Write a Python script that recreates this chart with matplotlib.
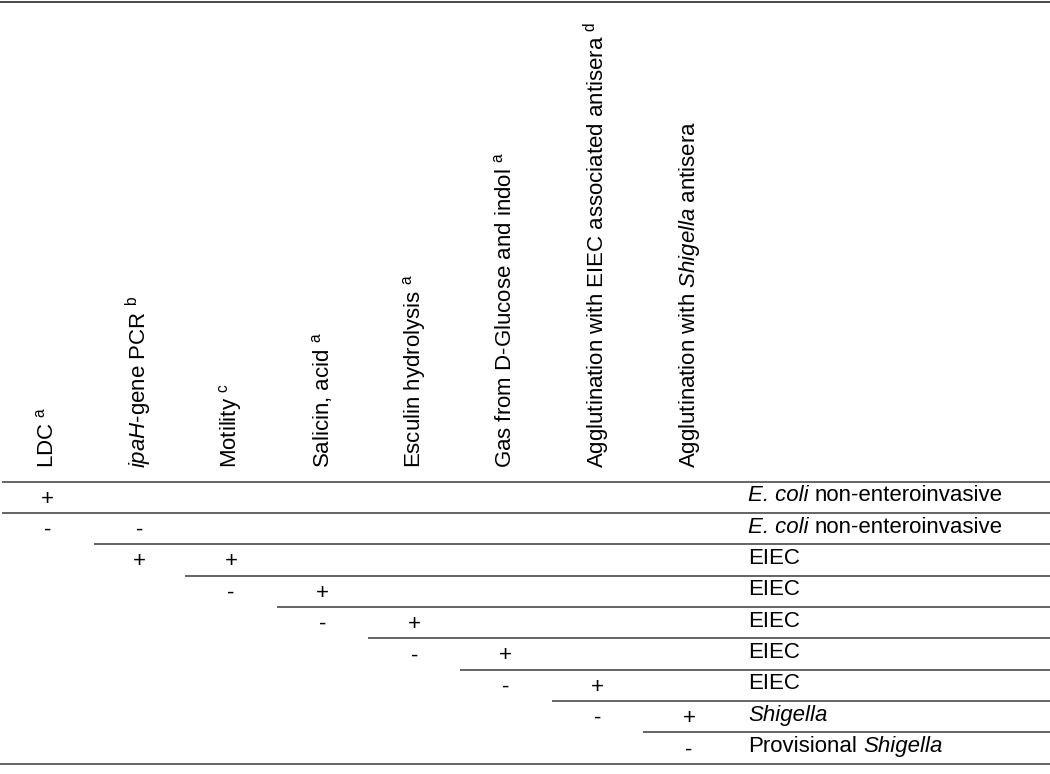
import matplotlib
matplotlib.use("Agg")
import matplotlib.pyplot as plt

plt.rcParams['font.family'] = ['Liberation Sans', 'DejaVu Sans']
plt.rcParams['mathtext.fontset'] = 'custom'
plt.rcParams['mathtext.rm'] = 'Liberation Sans'
plt.rcParams['mathtext.it'] = 'Liberation Sans:italic'
plt.rcParams['mathtext.bf'] = 'Liberation Sans:bold'

# ---- data ----
tests = [
    r"LDC $^{\mathrm{a}}$",
    r"$\mathit{ipaH}$-gene PCR $^{\mathrm{b}}$",
    r"Motility $^{\mathrm{c}}$",
    r"Salicin, acid $^{\mathrm{a}}$",
    r"Esculin hydrolysis $^{\mathrm{a}}$",
    r"Gas from D-Glucose and indol $^{\mathrm{a}}$",
    r"Agglutination with EIEC associated antisera $^{\mathrm{d}}$",
    r"Agglutination with $\mathit{Shigella}$ antisera",
]
results = [
    ["+", "", "", "", "", "", "", ""],
    ["-", "-", "", "", "", "", "", ""],
    ["", "+", "+", "", "", "", "", ""],
    ["", "", "-", "+", "", "", "", ""],
    ["", "", "", "-", "+", "", "", ""],
    ["", "", "", "", "-", "+", "", ""],
    ["", "", "", "", "", "-", "+", ""],
    ["", "", "", "", "", "", "-", "+"],
    ["", "", "", "", "", "", "", "-"],
]
# outcome labels as (text, italic) segments separated by spaces
outcomes = [
    [("E. coli", True), ("non-enteroinvasive", False)],
    [("E. coli", True), ("non-enteroinvasive", False)],
    [("EIEC", False)],
    [("EIEC", False)],
    [("EIEC", False)],
    [("EIEC", False)],
    [("EIEC", False)],
    [("Shigella", True)],
    [("Provisional", False), ("Shigella", True)],
]
# column index where the rule below each row begins
rule_start = [0, 1, 2, 3, 4, 5, 6, 7, 0]

# ---- layout ----
W, H = 1050, 774
fig = plt.figure(figsize=(W / 100, H / 100), dpi=100)
ax = fig.add_axes([0, 0, 1, 1])
ax.set_xlim(0, W)
ax.set_ylim(H, 0)
ax.axis('off')

x0 = 2.0
colw = 91.6
header_y = 481.5
rowh = 31.35
out_x = 748
fs = 16
space_pt = fs * 0.278
lc = '#3a3a3a'
lw = 1.1

# top rule
ax.plot([0, W], [1.5, 1.5], color=lc, lw=1.3, solid_capstyle='butt')
# header rule
ax.plot([x0, W], [header_y, header_y], color=lc, lw=lw, solid_capstyle='butt')

for i, t in enumerate(tests):
    cx = x0 + colw * (i + 0.5)
    ax.text(cx, header_y - 14, t, rotation=90, ha='center', va='bottom',
            fontsize=fs, color='black')

for r, row in enumerate(results):
    cy = header_y + rowh * (r + 0.5)
    for c, v in enumerate(row):
        if v:
            ax.text(x0 + colw * (c + 0.5), cy + 2, v, ha='center', va='center',
                    fontsize=fs, color='black')
    prev = None
    for seg, ital in outcomes[r]:
        style = 'italic' if ital else 'normal'
        if prev is None:
            prev = ax.text(out_x, cy - 1.5, seg, ha='left', va='center',
                           fontsize=fs, color='black', fontstyle=style)
        else:
            prev = ax.annotate(seg, xy=(1, 0), xycoords=prev,
                               xytext=(space_pt, 0), textcoords='offset points',
                               ha='left', va='bottom', fontsize=fs,
                               color='black', fontstyle=style)
    yb = header_y + rowh * (r + 1)
    xs = 0 if r == len(results) - 1 else x0 + colw * rule_start[r]
    ax.plot([xs, W], [yb, yb], color=lc, lw=lw, solid_capstyle='butt')

fig.savefig("out.png", dpi=100)
